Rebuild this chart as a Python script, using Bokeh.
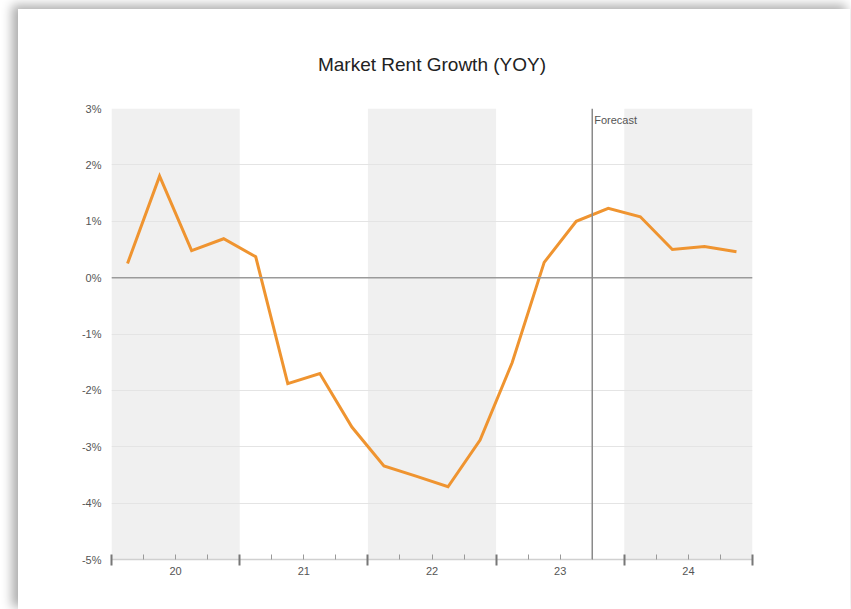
from bokeh.plotting import figure
from bokeh.models import (Range1d, FixedTicker, LinearAxis, Span, Label,
                          PrintfTickFormatter, ColumnDataSource)
from bokeh.embed import file_html
from bokeh.resources import INLINE

# ---- data ----
years = [20, 21, 22, 23, 24]
year_labels = ["20", "21", "22", "23", "24"]
shaded_years = [20, 22, 24]
quarter_x = [19.625, 19.875, 20.125, 20.375,
             20.625, 20.875, 21.125, 21.375,
             21.625, 21.875, 22.125, 22.375,
             22.625, 22.875, 23.125, 23.375,
             23.625, 23.875, 24.125, 24.375]
rent_growth = [0.25, 1.80, 0.48, 0.69,
               0.37, -1.88, -1.70, -2.65,
               -3.34, -3.52, -3.71, -2.88,
               -1.51, 0.27, 1.00, 1.23,
               1.08, 0.50, 0.55, 0.46]
forecast_start = 23.25
y_ticks = [-5, -4, -3, -2, -1, 0, 1, 2, 3]
title_text = "Market Rent Growth (YOY)"

FONT = "Liberation Sans"

p = figure(width=832, height=600, output_backend="svg", toolbar_location=None,
           x_range=Range1d(19.5, 24.5), y_range=Range1d(-5, 3),
           x_axis_type=None, title=title_text,
           min_border_left=93, min_border_right=98, min_border_top=99,
           min_border_bottom=50)
p.margin = (9, 0, 0, 18)
p.styles = {"box-shadow": "-5px -3px 10px 1px rgba(0,0,0,0.32)"}
p.outline_line_color = None
p.background_fill_color = "white"
p.border_fill_color = "white"

p.title.align = "center"
p.title.text_font = FONT
p.title.text_font_size = "19px"
p.title.text_font_style = "normal"
p.title.text_color = "#222222"
p.title.standoff = 67

# shaded year bands
band_src = ColumnDataSource(dict(
    left=[y - 0.5 for y in shaded_years],
    right=[y + 0.5 for y in shaded_years],
    bottom=[y_ticks[0]] * len(shaded_years),
    top=[y_ticks[-1]] * len(shaded_years)))
p.quad(left="left", right="right", bottom="bottom", top="top", source=band_src,
       fill_color="#f0f0f0", line_color=None, level="underlay")

# grid
p.xgrid.visible = False
p.ygrid.ticker = FixedTicker(ticks=y_ticks)
p.ygrid.grid_line_color = "#e4e4e4"
p.ygrid.grid_line_width = 1

# zero line
p.add_layout(Span(location=0, dimension="width", line_color="#9a9a9a", line_width=1.5))

# forecast line
p.add_layout(Span(location=forecast_start, dimension="height", line_color="#8a8a8a", line_width=1.5))
p.add_layout(Label(x=forecast_start, y=y_ticks[-1], text="Forecast", x_offset=2, y_offset=-5,
                   text_baseline="top", text_align="left", text_font=FONT,
                   text_font_size="11px", text_color="#555555"))

# data line
p.line(quarter_x, rent_growth, line_color="#ef9430", line_width=3, line_join="miter")

# y axis
ya = p.yaxis[0]
ya.ticker = FixedTicker(ticks=y_ticks)
ya.formatter = PrintfTickFormatter(format="%d%%")
ya.axis_line_color = None
ya.major_tick_line_color = None
ya.minor_tick_line_color = None
ya.major_label_standoff = 4
ya.major_label_text_font = FONT
ya.major_label_text_font_size = "11px"
ya.major_label_text_color = "#555555"

# x axis: ticks
boundaries = [y - 0.5 for y in years] + [years[-1] + 0.5]
quarter_bounds = [y + d for y in years for d in (-0.25, 0.0, 0.25)]
ax_ticks = LinearAxis(ticker=FixedTicker(ticks=boundaries, minor_ticks=quarter_bounds))
ax_ticks.axis_line_color = "#d0d0d0"
ax_ticks.axis_line_width = 1.5
ax_ticks.major_tick_line_color = "#777777"
ax_ticks.major_tick_line_width = 2
ax_ticks.major_tick_in = 5
ax_ticks.major_tick_out = 6
ax_ticks.minor_tick_line_color = "#999999"
ax_ticks.minor_tick_line_width = 1
ax_ticks.minor_tick_in = 5
ax_ticks.minor_tick_out = 0
ax_ticks.major_label_overrides = {b: "" for b in boundaries}
ax_ticks.major_label_text_font_size = "0px"
ax_ticks.major_label_standoff = 0
p.add_layout(ax_ticks, "below")

# x axis: labels
ax_lab = LinearAxis(ticker=FixedTicker(ticks=years))
ax_lab.axis_line_color = None
ax_lab.major_tick_line_color = None
ax_lab.minor_tick_line_color = None
ax_lab.major_label_overrides = {y: l for y, l in zip(years, year_labels)}
ax_lab.major_label_standoff = -5
ax_lab.major_label_text_font = FONT
ax_lab.major_label_text_font_size = "11px"
ax_lab.major_label_text_color = "#555555"
p.add_layout(ax_lab, "below")

open("out.html", "w").write(file_html(p, INLINE))
